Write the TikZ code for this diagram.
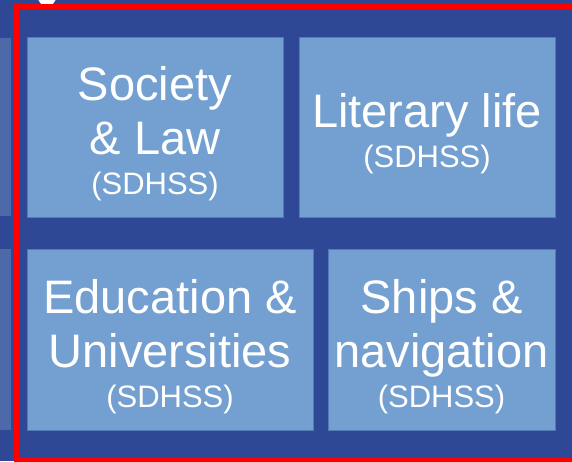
\documentclass[tikz,border=0pt]{standalone}
\usepackage{fontspec}
\setmainfont{Liberation Sans}
\definecolor{navy}{RGB}{46,72,150}
\definecolor{tile}{RGB}{115,160,208}
\definecolor{tileedge}{RGB}{84,122,184}
\definecolor{sidetile}{RGB}{76,106,170}
\tikzset{
  tilebox/.style={fill=tile, draw=tileedge, line width=1pt, inner sep=0pt},
  tiletext/.style={text=white, align=center, inner sep=0pt,
    font=\fontsize{47}{54}\selectfont},
}
\newcommand{\sdhss}{\\[-14pt]{\fontsize{31}{36}\selectfont (SDHSS)}}
\begin{document}
\begin{tikzpicture}[x=1pt,y=-1pt]
  \useasboundingbox (0,0) rectangle (572,461);
  \fill[navy] (0,0) rectangle (572,461);
  % tiles of the neighbouring column, cut off at the left
  \foreach \y/\yy in{38/216, 249/430}{%
    \fill[sidetile](-20,\y)rectangle(11,\yy);
  }
  \fill[white] (47,-3) circle (9);
  % the four tiles
  \foreach \n/\x/\y/\w/\h/\t in{%
      society/155/127/256/180/{Society\\\& Law},
      literary/427/127/256/180/{Literary life},
      education/170/339.5/286/181/{Education \&\\Universities},
      ships/441.5/339.5/227/181/{Ships \&\\navigation}}{%
    \node[tilebox, minimum width=\w pt, minimum height=\h pt] (\n) at (\x,\y) {};
    \node[tiletext] (\n-text) at ([yshift=-7pt]\n.center) {\t\sdhss};
  }
  \draw[red, line width=5pt] (16.5,480) -- (16.5,6.5) -- (590,6.5);
  \draw[red, line width=5pt] (16.5,460.5) -- (590,460.5);
\end{tikzpicture}
\end{document}
